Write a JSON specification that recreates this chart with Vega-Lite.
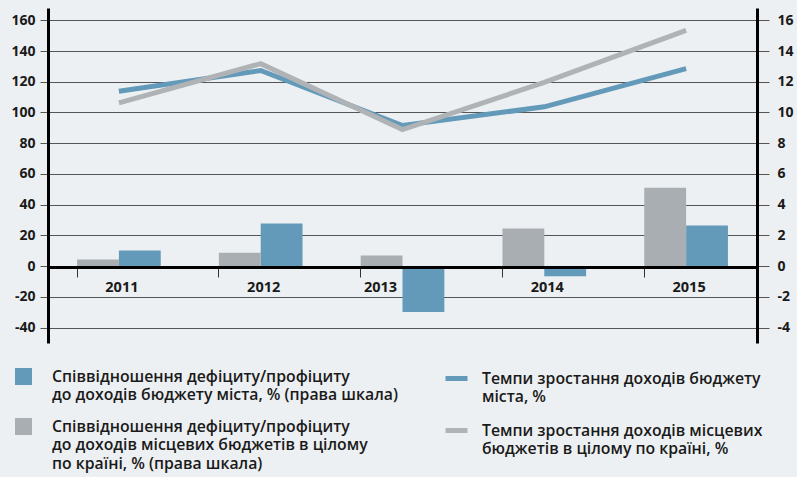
{
  "$schema": "https://vega.github.io/schema/vega-lite/v6.json",
  "width": 709,
  "height": 335,
  "autosize": {"type": "none"},
  "padding": {"left": 48, "top": 8, "right": 40, "bottom": 134},
  "background": "#edf0f2",
  "config": {
    "view": {"stroke": null},
    "font": "Open Sans",
    "axis": {"labelFont": "Open Sans", "labelFontWeight": "bold", "labelFontSize": 14, "labelColor": "#1a1a1a", "title": null},
    "style": {"guide-label": {"lineHeight": 18.5}}
  },
  "datasets": {
    "deficit": [
      {"year": "2011", "series": "Співвідношення дефіциту/профіциту|до доходів бюджету міста, % (права шкала)", "value": 1.02},
      {"year": "2011", "series": "Співвідношення дефіциту/профіциту|до доходів місцевих бюджетів в цілому|по країні, % (права шкала)", "value": 0.44},
      {"year": "2012", "series": "Співвідношення дефіциту/профіциту|до доходів бюджету міста, % (права шкала)", "value": 2.78},
      {"year": "2012", "series": "Співвідношення дефіциту/профіциту|до доходів місцевих бюджетів в цілому|по країні, % (права шкала)", "value": 0.87},
      {"year": "2013", "series": "Співвідношення дефіциту/профіциту|до доходів бюджету міста, % (права шкала)", "value": -2.99},
      {"year": "2013", "series": "Співвідношення дефіциту/профіциту|до доходів місцевих бюджетів в цілому|по країні, % (права шкала)", "value": 0.7},
      {"year": "2014", "series": "Співвідношення дефіциту/профіциту|до доходів бюджету міста, % (права шкала)", "value": -0.65},
      {"year": "2014", "series": "Співвідношення дефіциту/профіциту|до доходів місцевих бюджетів в цілому|по країні, % (права шкала)", "value": 2.45},
      {"year": "2015", "series": "Співвідношення дефіциту/профіциту|до доходів бюджету міста, % (права шкала)", "value": 2.65},
      {"year": "2015", "series": "Співвідношення дефіциту/профіциту|до доходів місцевих бюджетів в цілому|по країні, % (права шкала)", "value": 5.1}
    ],
    "growth": [
      {"year": "2011", "series": "Темпи зростання доходів бюджету|міста, %", "value": 113.8},
      {"year": "2011", "series": "Темпи зростання доходів місцевих|бюджетів в цілому по країні, %", "value": 106.3},
      {"year": "2012", "series": "Темпи зростання доходів бюджету|міста, %", "value": 127.3},
      {"year": "2012", "series": "Темпи зростання доходів місцевих|бюджетів в цілому по країні, %", "value": 131.8},
      {"year": "2013", "series": "Темпи зростання доходів бюджету|міста, %", "value": 91.5},
      {"year": "2013", "series": "Темпи зростання доходів місцевих|бюджетів в цілому по країні, %", "value": 88.9},
      {"year": "2014", "series": "Темпи зростання доходів бюджету|міста, %", "value": 103.7},
      {"year": "2014", "series": "Темпи зростання доходів місцевих|бюджетів в цілому по країні, %", "value": 119.6},
      {"year": "2015", "series": "Темпи зростання доходів бюджету|міста, %", "value": 128.6},
      {"year": "2015", "series": "Темпи зростання доходів місцевих|бюджетів в цілому по країні, %", "value": 153.5}
    ]
  },
  "encoding": {
    "x": {
      "field": "year", "type": "nominal",
      "scale": {"paddingInner": 0.41, "paddingOuter": 0.205},
      "axis": {
        "orient": "bottom", "offset": -76, "labelAngle": 0, "zindex": 2,
        "domain": true, "domainColor": "#000000", "domainWidth": 3,
        "ticks": true, "bandPosition": 0, "tickSize": 10, "tickColor": "#333333", "tickWidth": 1,
        "labelPadding": 3, "labelFontSize": 14.5, "grid": false,
        "labelOffset": {"condition": {"test": "datum.value == '2013'", "value": -22}, "value": 3}
      }
    }
  },
  "layer": [
    {
      "data": {"name": "deficit"},
      "mark": {"type": "bar"},
      "encoding": {
        "xOffset": {"field": "series", "type": "nominal", "scale": {"domain": [
          "Співвідношення дефіциту/профіциту|до доходів місцевих бюджетів в цілому|по країні, % (права шкала)",
          "Співвідношення дефіциту/профіциту|до доходів бюджету міста, % (права шкала)"
        ], "paddingInner": 0, "paddingOuter": 0}},
        "y": {
          "field": "value", "type": "quantitative",
          "scale": {"domain": [-5, 16.8], "nice": false, "zero": false},
          "axis": {
            "orient": "right", "values": [-4, -2, 0, 2, 4, 6, 8, 10, 12, 14, 16],
            "labelExpr": "datum.value + ''",
            "domain": true, "domainColor": "#000000", "domainWidth": 3,
            "ticks": true, "tickColor": "#555555", "tickSize": 12, "tickWidth": 1,
            "labelPadding": 8, "grid": false
          }
        },
        "color": {
          "field": "series", "type": "nominal",
          "scale": {
            "domain": [
              "Співвідношення дефіциту/профіциту|до доходів бюджету міста, % (права шкала)",
              "Співвідношення дефіциту/профіциту|до доходів місцевих бюджетів в цілому|по країні, % (права шкала)"
            ],
            "range": ["#6399b9", "#a9aeb3"]
          },
          "legend": {
            "title": null, "orient": "none", "legendX": -33, "legendY": 360,
            "symbolType": "square", "symbolSize": 289, "symbolOpacity": 1, "symbolStrokeWidth": 0,
            "labelExpr": "split(datum.label, '|')",
            "labelFont": "Open Sans", "labelFontWeight": 600, "labelFontSize": 15.8, "labelColor": "#1a1a1a",
            "labelOffset": 20, "labelLimit": 0, "rowPadding": 15, "labelBaseline": "middle"
          }
        }
      }
    },
    {
      "data": {"name": "growth"},
      "mark": {"type": "line", "strokeWidth": 5},
      "encoding": {
        "y": {
          "field": "value", "type": "quantitative",
          "scale": {"domain": [-50, 168], "nice": false, "zero": false},
          "axis": {
            "orient": "left", "values": [-40, -20, 0, 20, 40, 60, 80, 100, 120, 140, 160],
            "labelExpr": "datum.value + ''",
            "domain": true, "domainColor": "#000000", "domainWidth": 3,
            "ticks": true, "tickColor": "#555555", "tickSize": 8, "tickWidth": 1,
            "labelPadding": 5, "grid": true, "gridColor": "#555555", "gridWidth": 1
          }
        },
        "color": {
          "field": "series", "type": "nominal",
          "scale": {
            "domain": [
              "Темпи зростання доходів бюджету|міста, %",
              "Темпи зростання доходів місцевих|бюджетів в цілому по країні, %"
            ],
            "range": ["#6399b9", "#b0b3b6"]
          },
          "legend": {
            "title": null, "orient": "none", "legendX": 395, "legendY": 357,
            "symbolType": "stroke", "symbolSize": 484, "symbolStrokeWidth": 5, "symbolOpacity": 1,
            "labelExpr": "split(datum.label, '|')",
            "labelFont": "Open Sans", "labelFontWeight": 600, "labelFontSize": 15.8, "labelColor": "#1a1a1a",
            "labelOffset": 12, "labelLimit": 0, "rowPadding": 12, "labelBaseline": "middle"
          }
        }
      }
    }
  ],
  "resolve": {"scale": {"y": "independent", "color": "independent", "xOffset": "independent"}}
}
